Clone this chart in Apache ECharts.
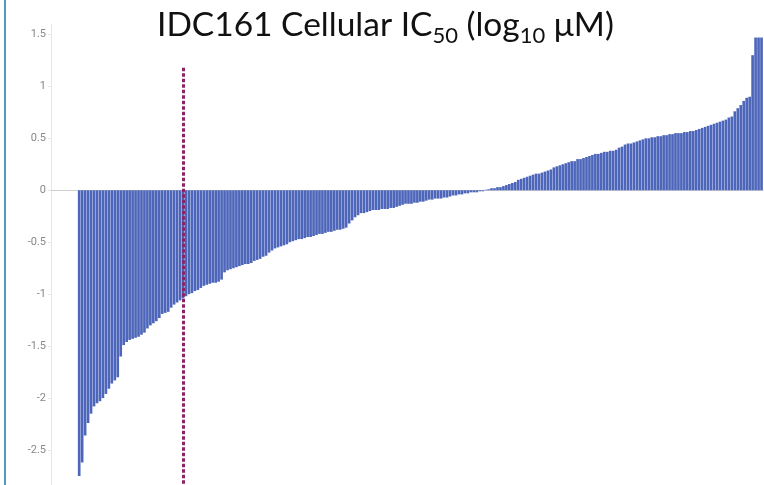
<!DOCTYPE html>
<html>
<head>
<meta charset="utf-8">
<script src="https://cdn.jsdelivr.net/npm/echarts@6/dist/echarts.min.js"></script>
<style>
  html, body { margin: 0; padding: 0; background: #fff; }
  #chart { width: 764px; height: 485px; }
</style>
</head>
<body>
<div id="chart"></div>
<script>
// ---- data ----
const leadingBlanks = 9;   // empty categories before the first bar
const values = [
  -2.75, -2.62, -2.36, -2.24, -2.15, -2.08, -2.05, -2.03, -2.00, -1.96,
  -1.91, -1.86, -1.83, -1.80, -1.60, -1.49, -1.46, -1.44, -1.43, -1.42,
  -1.41, -1.39, -1.37, -1.33, -1.30, -1.28, -1.26, -1.23, -1.19, -1.18,
  -1.17, -1.13, -1.10, -1.08, -1.06, -1.04, -1.02, -1.00, -0.99, -0.97,
  -0.96, -0.94, -0.92, -0.91, -0.90, -0.89, -0.89, -0.88, -0.86, -0.79,
  -0.77, -0.76, -0.75, -0.74, -0.73, -0.72, -0.71, -0.71, -0.70, -0.68,
  -0.67, -0.66, -0.64, -0.63, -0.60, -0.58, -0.56, -0.55, -0.54, -0.53,
  -0.52, -0.50, -0.49, -0.48, -0.47, -0.47, -0.46, -0.45, -0.45, -0.44,
  -0.43, -0.42, -0.42, -0.41, -0.40, -0.40, -0.39, -0.38, -0.38, -0.37,
  -0.36, -0.32, -0.29, -0.26, -0.24, -0.22, -0.22, -0.21, -0.20, -0.19,
  -0.19, -0.19, -0.18, -0.18, -0.18, -0.17, -0.17, -0.16, -0.15, -0.14,
  -0.13, -0.13, -0.13, -0.12, -0.12, -0.11, -0.11, -0.10, -0.09, -0.09,
  -0.08, -0.08, -0.08, -0.07, -0.07, -0.06, -0.05, -0.05, -0.04, -0.04,
  -0.03, -0.03, -0.02, -0.02, -0.02, -0.01, -0.01, 0.005, 0.01, 0.02,
  0.02, 0.03, 0.03, 0.04, 0.05, 0.06, 0.07, 0.08, 0.10, 0.11,
  0.12, 0.13, 0.14, 0.15, 0.16, 0.16, 0.17, 0.18, 0.19, 0.20,
  0.22, 0.23, 0.24, 0.25, 0.26, 0.27, 0.28, 0.28, 0.30, 0.30,
  0.31, 0.32, 0.33, 0.34, 0.35, 0.35, 0.36, 0.37, 0.37, 0.38,
  0.38, 0.39, 0.41, 0.42, 0.44, 0.45, 0.45, 0.46, 0.47, 0.48,
  0.49, 0.50, 0.50, 0.51, 0.51, 0.52, 0.52, 0.53, 0.53, 0.54,
  0.54, 0.55, 0.55, 0.55, 0.56, 0.56, 0.57, 0.57, 0.58, 0.59,
  0.60, 0.61, 0.62, 0.63, 0.64, 0.65, 0.66, 0.67, 0.68, 0.70,
  0.71, 0.76, 0.79, 0.82, 0.86, 0.89, 0.90, 1.30, 1.47, 1.47,
  1.47
];
const cutoffBarIndex = 35;      // bar where the dotted cutoff line sits
const cutoffTop = 1.18;         // top end of the dotted line (y value)
const yTicks = { min: -3, max: 1.6, interval: 0.5 };
const titleText = 'IDC161 Cellular IC{s|50} (log{s|10} μM)';

// ---- build ----
const categories = [];
const seriesData = [];
for (let i = 0; i < leadingBlanks; i++) { categories.push('b' + i); seriesData.push(null); }
values.forEach((v, i) => { categories.push('c' + i); seriesData.push(v); });
const cutoffCat = categories[leadingBlanks + cutoffBarIndex];

const chart = echarts.init(document.getElementById('chart'), null, { renderer: 'canvas' });
chart.setOption({
  animation: false,
  backgroundColor: '#ffffff',
  title: {
    text: titleText,
    left: 157,
    top: 8,
    padding: 0,
    textStyle: {
      fontFamily: 'Lato',
      fontSize: 33.5,
      fontWeight: 'normal',
      color: '#111111',
      lineHeight: 34,
      verticalAlign: 'top',
      rich: {
        s: { fontFamily: 'Lato', fontSize: 22, lineHeight: 22, color: '#111111',
             verticalAlign: 'top', padding: [17, 0, 0, 0] }
      }
    }
  },
  graphic: [
    { type: 'rect', shape: { x: 4, y: 0, width: 2, height: 485 },
      style: { fill: '#4a9cc4' }, silent: true }
  ],
  grid: { left: 51, right: 1, top: 24, height: 478, containLabel: false, outerBoundsMode: 'none' },
  xAxis: {
    type: 'category',
    data: categories,
    axisLine: { show: true, onZero: true, lineStyle: { color: '#cfcfcf', width: 1 } },
    axisTick: { show: false },
    axisLabel: { show: false },
    splitLine: { show: false }
  },
  yAxis: {
    type: 'value',
    min: yTicks.min,
    max: yTicks.max,
    interval: yTicks.interval,
    axisLine: { show: true, lineStyle: { color: '#e6e6e6', width: 1 } },
    axisTick: { show: true, length: 3, lineStyle: { color: '#e6e6e6' } },
    axisLabel: {
      showMaxLabel: false,
      color: '#888888',
      fontFamily: 'Roboto',
      fontSize: 11,
      margin: 5
    },
    splitLine: { show: false }
  },
  series: [{
    type: 'bar',
    data: seriesData,
    barCategoryGap: '10%',
    itemStyle: { color: '#4d66ba' },
    markLine: {
      silent: true,
      symbol: ['none', 'none'],
      label: { show: false },
      lineStyle: { color: '#8a2565', width: 3, type: [3.5, 2], opacity: 1 },
      data: [[
        { coord: [cutoffCat, cutoffTop] },
        { coord: [cutoffCat, yTicks.min] }
      ]]
    }
  }]
});
</script>
</body>
</html>
